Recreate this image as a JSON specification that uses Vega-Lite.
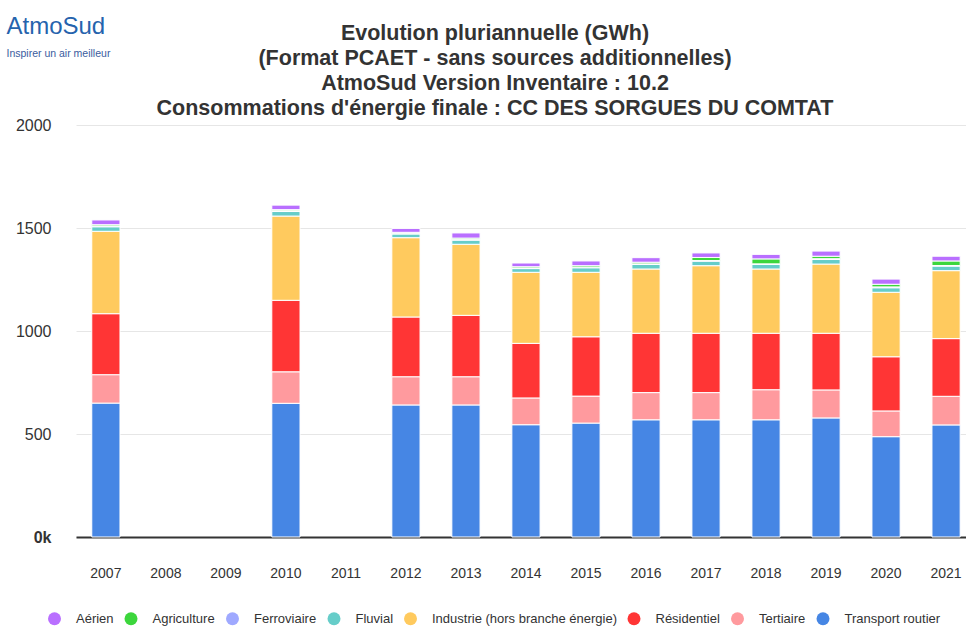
{
  "$schema": "https://vega.github.io/schema/vega-lite/v6.json",
  "width": 890,
  "height": 412,
  "autosize": {"type": "none"},
  "padding": {"left": 76, "top": 125, "right": 0, "bottom": 90},
  "background": "white",
  "config": {"font": "Liberation Sans", "view": {"stroke": null}},
  "title": {
    "text": ["Evolution pluriannuelle (GWh)", "(Format PCAET - sans sources additionnelles)", "AtmoSud Version Inventaire : 10.2", "Consommations d'énergie finale : CC DES SORGUES DU COMTAT"],
    "fontSize": 21.5,
    "fontWeight": "bold",
    "color": "#333333",
    "lineHeight": 25,
    "anchor": "middle",
    "frame": "group",
    "dx": -26,
    "dy": 109
  },
  "data": {
    "values": [
      {"annee": "2007", "secteur": "Transport routier", "gwh": 650},
      {"annee": "2007", "secteur": "Tertiaire", "gwh": 138},
      {"annee": "2007", "secteur": "Résidentiel", "gwh": 296},
      {"annee": "2007", "secteur": "Industrie (hors branche énergie)", "gwh": 400},
      {"annee": "2007", "secteur": "Fluvial", "gwh": 22},
      {"annee": "2007", "secteur": "Ferroviaire", "gwh": 4},
      {"annee": "2007", "secteur": "Agriculture", "gwh": 6},
      {"annee": "2007", "secteur": "Aérien", "gwh": 23},
      {"annee": "2010", "secteur": "Transport routier", "gwh": 649},
      {"annee": "2010", "secteur": "Tertiaire", "gwh": 153},
      {"annee": "2010", "secteur": "Résidentiel", "gwh": 347},
      {"annee": "2010", "secteur": "Industrie (hors branche énergie)", "gwh": 409},
      {"annee": "2010", "secteur": "Fluvial", "gwh": 22},
      {"annee": "2010", "secteur": "Ferroviaire", "gwh": 4},
      {"annee": "2010", "secteur": "Agriculture", "gwh": 5},
      {"annee": "2010", "secteur": "Aérien", "gwh": 22},
      {"annee": "2012", "secteur": "Transport routier", "gwh": 641},
      {"annee": "2012", "secteur": "Tertiaire", "gwh": 137},
      {"annee": "2012", "secteur": "Résidentiel", "gwh": 290},
      {"annee": "2012", "secteur": "Industrie (hors branche énergie)", "gwh": 385},
      {"annee": "2012", "secteur": "Fluvial", "gwh": 18},
      {"annee": "2012", "secteur": "Ferroviaire", "gwh": 3},
      {"annee": "2012", "secteur": "Agriculture", "gwh": 5},
      {"annee": "2012", "secteur": "Aérien", "gwh": 19},
      {"annee": "2013", "secteur": "Transport routier", "gwh": 641},
      {"annee": "2013", "secteur": "Tertiaire", "gwh": 137},
      {"annee": "2013", "secteur": "Résidentiel", "gwh": 298},
      {"annee": "2013", "secteur": "Industrie (hors branche énergie)", "gwh": 345},
      {"annee": "2013", "secteur": "Fluvial", "gwh": 20},
      {"annee": "2013", "secteur": "Ferroviaire", "gwh": 4},
      {"annee": "2013", "secteur": "Agriculture", "gwh": 6},
      {"annee": "2013", "secteur": "Aérien", "gwh": 25},
      {"annee": "2014", "secteur": "Transport routier", "gwh": 545},
      {"annee": "2014", "secteur": "Tertiaire", "gwh": 130},
      {"annee": "2014", "secteur": "Résidentiel", "gwh": 265},
      {"annee": "2014", "secteur": "Industrie (hors branche énergie)", "gwh": 345},
      {"annee": "2014", "secteur": "Fluvial", "gwh": 18},
      {"annee": "2014", "secteur": "Ferroviaire", "gwh": 3},
      {"annee": "2014", "secteur": "Agriculture", "gwh": 6},
      {"annee": "2014", "secteur": "Aérien", "gwh": 18},
      {"annee": "2015", "secteur": "Transport routier", "gwh": 553},
      {"annee": "2015", "secteur": "Tertiaire", "gwh": 131},
      {"annee": "2015", "secteur": "Résidentiel", "gwh": 288},
      {"annee": "2015", "secteur": "Industrie (hors branche énergie)", "gwh": 313},
      {"annee": "2015", "secteur": "Fluvial", "gwh": 22},
      {"annee": "2015", "secteur": "Ferroviaire", "gwh": 3},
      {"annee": "2015", "secteur": "Agriculture", "gwh": 7},
      {"annee": "2015", "secteur": "Aérien", "gwh": 23},
      {"annee": "2016", "secteur": "Transport routier", "gwh": 569},
      {"annee": "2016", "secteur": "Tertiaire", "gwh": 132},
      {"annee": "2016", "secteur": "Résidentiel", "gwh": 288},
      {"annee": "2016", "secteur": "Industrie (hors branche énergie)", "gwh": 312},
      {"annee": "2016", "secteur": "Fluvial", "gwh": 22},
      {"annee": "2016", "secteur": "Ferroviaire", "gwh": 3},
      {"annee": "2016", "secteur": "Agriculture", "gwh": 8},
      {"annee": "2016", "secteur": "Aérien", "gwh": 22},
      {"annee": "2017", "secteur": "Transport routier", "gwh": 569},
      {"annee": "2017", "secteur": "Tertiaire", "gwh": 132},
      {"annee": "2017", "secteur": "Résidentiel", "gwh": 288},
      {"annee": "2017", "secteur": "Industrie (hors branche énergie)", "gwh": 328},
      {"annee": "2017", "secteur": "Fluvial", "gwh": 22},
      {"annee": "2017", "secteur": "Ferroviaire", "gwh": 3},
      {"annee": "2017", "secteur": "Agriculture", "gwh": 15},
      {"annee": "2017", "secteur": "Aérien", "gwh": 22},
      {"annee": "2018", "secteur": "Transport routier", "gwh": 569},
      {"annee": "2018", "secteur": "Tertiaire", "gwh": 146},
      {"annee": "2018", "secteur": "Résidentiel", "gwh": 274},
      {"annee": "2018", "secteur": "Industrie (hors branche énergie)", "gwh": 312},
      {"annee": "2018", "secteur": "Fluvial", "gwh": 22},
      {"annee": "2018", "secteur": "Ferroviaire", "gwh": 3},
      {"annee": "2018", "secteur": "Agriculture", "gwh": 24},
      {"annee": "2018", "secteur": "Aérien", "gwh": 22},
      {"annee": "2019", "secteur": "Transport routier", "gwh": 578},
      {"annee": "2019", "secteur": "Tertiaire", "gwh": 136},
      {"annee": "2019", "secteur": "Résidentiel", "gwh": 275},
      {"annee": "2019", "secteur": "Industrie (hors branche énergie)", "gwh": 336},
      {"annee": "2019", "secteur": "Fluvial", "gwh": 22},
      {"annee": "2019", "secteur": "Ferroviaire", "gwh": 4},
      {"annee": "2019", "secteur": "Agriculture", "gwh": 12},
      {"annee": "2019", "secteur": "Aérien", "gwh": 25},
      {"annee": "2020", "secteur": "Transport routier", "gwh": 487},
      {"annee": "2020", "secteur": "Tertiaire", "gwh": 125},
      {"annee": "2020", "secteur": "Résidentiel", "gwh": 263},
      {"annee": "2020", "secteur": "Industrie (hors branche énergie)", "gwh": 313},
      {"annee": "2020", "secteur": "Fluvial", "gwh": 22},
      {"annee": "2020", "secteur": "Ferroviaire", "gwh": 4},
      {"annee": "2020", "secteur": "Agriculture", "gwh": 13},
      {"annee": "2020", "secteur": "Aérien", "gwh": 25},
      {"annee": "2021", "secteur": "Transport routier", "gwh": 544},
      {"annee": "2021", "secteur": "Tertiaire", "gwh": 139},
      {"annee": "2021", "secteur": "Résidentiel", "gwh": 280},
      {"annee": "2021", "secteur": "Industrie (hors branche énergie)", "gwh": 330},
      {"annee": "2021", "secteur": "Fluvial", "gwh": 22},
      {"annee": "2021", "secteur": "Ferroviaire", "gwh": 3},
      {"annee": "2021", "secteur": "Agriculture", "gwh": 22},
      {"annee": "2021", "secteur": "Aérien", "gwh": 23}
    ]
  },
  "transform": [
    {"calculate": "indexof(['Transport routier','Tertiaire','Résidentiel','Industrie (hors branche énergie)','Fluvial','Ferroviaire','Agriculture','Aérien'], datum.secteur)", "as": "ord"}
  ],
  "mark": {"type": "bar", "stroke": "white", "strokeWidth": 1},
  "encoding": {
    "x": {
      "field": "annee",
      "type": "ordinal",
      "scale": {
        "domain": ["2007", "2008", "2009", "2010", "2011", "2012", "2013", "2014", "2015", "2016", "2017", "2018", "2019", "2020", "2021"],
        "paddingInner": 0.53,
        "paddingOuter": 0.18,
        "align": 0.73
      },
      "axis": {
        "labelAngle": 0,
        "labelFontSize": 14,
        "labelColor": "#333333",
        "ticks": false,
        "labelPadding": 29,
        "domainColor": "#333333",
        "domainWidth": 2,
        "grid": false,
        "title": "Inspirer un air meilleur",
        "titleX": -70,
        "titleY": -481,
        "titleAlign": "left",
        "titleBaseline": "alphabetic",
        "titleFontSize": 10.5,
        "titleFontWeight": "normal",
        "titleColor": "#3a5c9e"
      }
    },
    "y": {
      "field": "gwh",
      "type": "quantitative",
      "stack": "zero",
      "scale": {"domain": [0, 2000], "nice": false},
      "axis": {
        "values": [0, 500, 1000, 1500, 2000],
        "format": "d",
        "labelExpr": "datum.value === 0 ? '0k' : datum.label",
        "labelFontWeight": {"condition": {"test": "datum.value === 0", "value": "bold"}, "value": "normal"},
        "labelFontSize": 16,
        "labelColor": "#333333",
        "labelPadding": 25,
        "domain": false,
        "ticks": false,
        "gridColor": "#e6e6e6",
        "gridWidth": 1,
        "title": "AtmoSud",
        "titleAngle": 0,
        "titleAlign": "left",
        "titleBaseline": "alphabetic",
        "titleX": -70,
        "titleY": -92,
        "titleFontSize": 24,
        "titleFontWeight": "normal",
        "titleColor": "#2563ad"
      }
    },
    "color": {
      "field": "secteur",
      "type": "nominal",
      "scale": {
        "domain": ["Aérien", "Agriculture", "Ferroviaire", "Fluvial", "Industrie (hors branche énergie)", "Résidentiel", "Tertiaire", "Transport routier"],
        "range": ["#b96fff", "#3cd63c", "#9fa9ff", "#66cdc9", "#ffca5e", "#ff3535", "#ff9a9e", "#4686e4"]
      },
      "legend": {
        "orient": "none",
        "legendX": -28,
        "legendY": 487,
        "direction": "horizontal",
        "columns": 8,
        "title": null,
        "symbolType": "circle",
        "symbolSize": 169,
        "symbolStrokeWidth": 0,
        "symbolOpacity": 1,
        "labelFontSize": 13,
        "labelColor": "#333333",
        "labelLimit": 400,
        "labelOffset": 15,
        "columnPadding": 10.5
      }
    },
    "order": {"field": "ord", "type": "quantitative"}
  }
}
